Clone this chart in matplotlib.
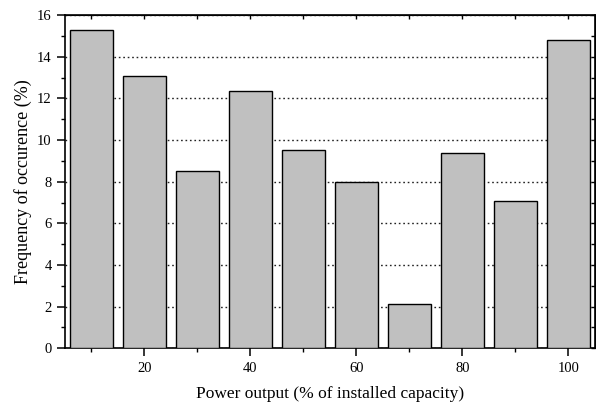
import matplotlib
matplotlib.use("Agg")
import matplotlib.pyplot as plt
from matplotlib.ticker import MultipleLocator

categories = [10, 20, 30, 40, 50, 60, 70, 80, 90, 100]
frequency = [15.27, 13.07, 8.50, 12.37, 9.53, 7.97, 2.14, 9.38, 7.09, 14.80]

plt.rcParams['font.family'] = ['Liberation Serif', 'DejaVu Serif']

fig = plt.figure(figsize=(5.96, 4.08), dpi=100)
ax = fig.add_axes([0.109, 0.1463, 0.889, 0.8167])

ax.bar(categories, frequency, width=8, color='#c0c0c0', edgecolor='black',
       linewidth=1.0, zorder=3)

ax.set_xlim(5, 105)
ax.set_ylim(0, 16)
ax.xaxis.set_major_locator(MultipleLocator(20))
ax.xaxis.set_minor_locator(MultipleLocator(10))
ax.yaxis.set_major_locator(MultipleLocator(2))
ax.yaxis.set_minor_locator(MultipleLocator(1))

ax.yaxis.grid(True, which='major', linestyle=(0, (1.2, 2.0)), color='#222222',
              linewidth=1.0, zorder=0)
ax.set_axisbelow(True)

for s in ax.spines.values():
    s.set_linewidth(1.2)

ax.tick_params(axis='both', which='major', direction='out', length=6, width=1.1,
               labelsize=10.5, top=False, right=False)
ax.tick_params(axis='both', which='minor', direction='out', length=3, width=1.0,
               top=False, right=False)

# inward ticks on top and right spines
axt = ax.secondary_xaxis('top')
axt.xaxis.set_major_locator(MultipleLocator(10))
axt.tick_params(direction='in', length=3, width=1.0, labeltop=False)
axr = ax.secondary_yaxis('right')
axr.yaxis.set_major_locator(MultipleLocator(1))
axr.tick_params(direction='in', length=3, width=1.0, labelright=False)

ax.set_xlabel('Power output (% of installed capacity)', fontsize=12.5, labelpad=8)
ax.set_ylabel('Frequency of occurence (%)', fontsize=13, labelpad=4)

fig.savefig('out.png', dpi=100)
